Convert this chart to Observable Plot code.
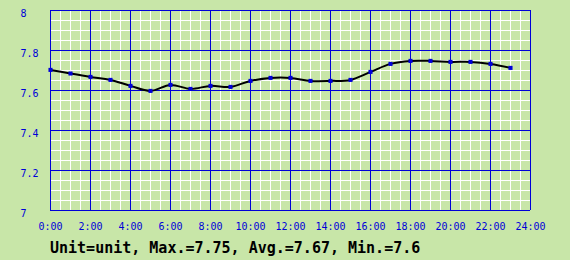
<!DOCTYPE html>
<html>
<head>
<meta charset="utf-8">
<script src="https://cdn.jsdelivr.net/npm/d3@7"></script>
<script src="https://cdn.jsdelivr.net/npm/@observablehq/plot@0.6"></script>
<style>
  html, body { margin: 0; padding: 0; background: #c8e6a8; }
  #chart svg { display: block; }
  #caption { font: bold 15px "DejaVu Sans Mono", monospace; line-height: 18px; margin-top: 3px; padding-left: 50px; color: #000; white-space: pre; }
</style>
</head>
<body>
<div id="chart"></div>
<div id="caption"></div>
<script>
const hours = [0,1,2,3,4,5,6,7,8,9,10,11,12,13,14,15,16,17,18,19,20,21,22,23];
const values = [7.703,7.685,7.668,7.653,7.623,7.598,7.628,7.608,7.623,7.618,7.648,7.663,7.663,7.648,7.648,7.653,7.693,7.733,7.748,7.748,7.743,7.743,7.733,7.713];
const xMajorTicks = [0,2,4,6,8,10,12,14,16,18,20,22,24];
const xMinorTicks = d3.range(0, 24.01, 0.5);
const yMajorTicks = [7,7.2,7.4,7.6,7.8,8];
const yMinorTicks = d3.range(7, 8.001, 0.05);
const yTickLabels = ["7","7.2","7.4","7.6","7.8","8"];
const captionText = "Unit=unit, Max.=7.75, Avg.=7.67, Min.=7.6";

const data = hours.map((h, i) => ({h, v: values[i]}));
const blue = "#0000d8";

const chart = Plot.plot({
  width: 570,
  height: 236,
  marginLeft: 50,
  marginRight: 40,
  marginTop: 10,
  marginBottom: 26,
  style: {background: "#c8e6a8", fontFamily: "DejaVu Sans Mono, monospace", fontSize: "10px"},
  x: {domain: [0, 24]},
  y: {domain: [7, 8]},
  marks: [
    Plot.ruleX(xMinorTicks, {stroke: "#ffffff", strokeWidth: 1, strokeOpacity: 1}),
    Plot.ruleY(yMinorTicks, {stroke: "#ffffff", strokeWidth: 1, strokeOpacity: 1}),
    Plot.ruleX(xMajorTicks, {stroke: blue, strokeWidth: 1}),
    Plot.ruleY(yMajorTicks, {stroke: blue, strokeWidth: 1}),
    Plot.axisX({ticks: xMajorTicks, tickSize: 0, tickPadding: 12, tickFormat: d => d + ":00", fill: blue, label: null, fontSize: 10}),
    Plot.axisY({ticks: yMajorTicks, tickSize: 0, tickPadding: 30, textAnchor: "start", dy: 3, tickFormat: (d, i) => yTickLabels[i], fill: blue, label: null, fontSize: 10}),
    Plot.line(data, {x: "h", y: "v", stroke: "#000", strokeWidth: 2, curve: "catmull-rom"}),
    Plot.dot(data, {x: "h", y: "v", symbol: "square", r: 2.3, fill: blue, stroke: "none"})
  ]
});
document.getElementById("chart").append(chart);
document.getElementById("caption").textContent = captionText;
</script>
</body>
</html>
